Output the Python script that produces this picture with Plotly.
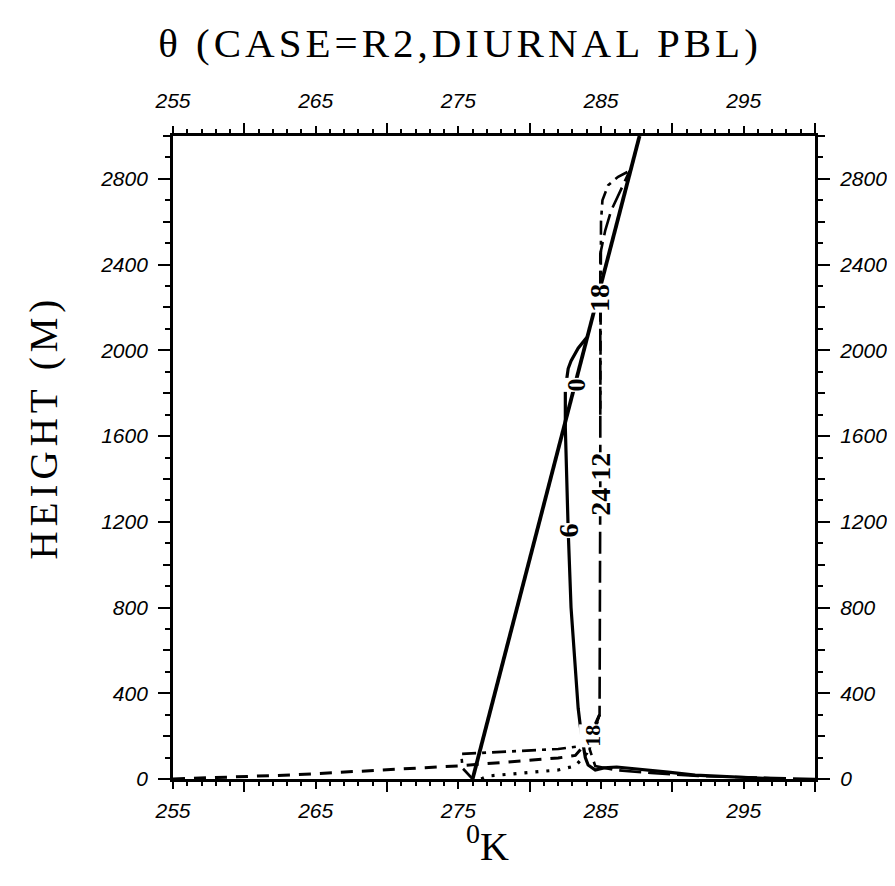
import plotly.graph_objects as go

# ---------------- data (potential temperature K vs height m) ----------------
x_range = [255, 300]
y_range = [0, 3000]
x_label_ticks = [255, 265, 275, 285, 295]
x_long_ticks = [260, 270, 280, 290, 300]
y_label_ticks = [0, 400, 800, 1200, 1600, 2000, 2400, 2800]
y_mid_ticks = [200, 600, 1000, 1400, 1800, 2200, 2600, 3000]

# hour 0 : initial profile
theta_0 = [276.0, 287.7]
z_0 = [0, 3000]

# hour 6
theta_6 = [297.5, 295.0, 291.6, 289.7, 287.5, 286.1, 285.2, 284.6, 284.1, 283.9,
           283.6, 283.4, 282.9, 282.7, 282.5, 282.5, 282.7, 282.9, 283.4, 284.0]
z_6 = [0, 8, 18, 32, 48, 56, 52, 42, 65, 100,
       220, 330, 800, 1160, 1640, 1820, 1915, 1950, 2010, 2060]

# hour 12 (long dash)
theta_12 = [300.0, 296.0, 291.8, 288.5, 286.0, 284.6, 284.2, 284.6, 284.9,
            284.95, 284.95, 285.3, 285.7, 286.4, 287.0]
z_12 = [0, 6, 14, 28, 42, 60, 140, 240, 300,
        1400, 2450, 2560, 2650, 2750, 2837]

# hour 18 (dash-dot)
theta_18 = [276.0, 275.3, 275.2, 282.0, 283.6, 284.3, 284.9, None,
            284.95, 285.0, 285.1, 285.5, 286.2, 287.0]
z_18 = [0, 50, 117, 140, 154, 200, 300, None,
        1700, 2600, 2700, 2770, 2810, 2837]

# hour 24 (dashed, cold surface)
theta_24 = [255.0, 263.3, 275.0, 282.0, 283.2, 284.0, 284.9]
z_24 = [0, 19, 61, 98, 110, 170, 300]

# intermediate night profile (dotted)
theta_d = [276.6, 277.1, 282.0, 283.2, 284.0, 284.9]
z_d = [0, 14, 42, 61, 120, 300]

# curve labels: (text, theta, z, size)
curve_labels = [("0", 283.3, 1840, 26), ("6", 282.7, 1160, 28),
                ("18", 284.95, 2245, 28), ("24", 284.95, 1295, 28),
                ("12", 284.95, 1458, 28), ("18", 284.35, 200, 22)]

# ---------------- figure ----------------
fig = go.Figure()
BLACK = "black"

def add(x, y, width, dash, xa="x", ya="y", opacity=1.0):
    fig.add_trace(go.Scatter(x=x, y=y, mode="lines", connectgaps=False,
                             xaxis=xa, yaxis=ya, opacity=opacity,
                             line=dict(color=BLACK, width=width, dash=dash),
                             showlegend=False, hoverinfo="skip"))

add(theta_0, z_0, 3.8, "solid")
add(theta_6, z_6, 3.2, "solid")
add(theta_12, z_12, 2.6, "22px,7px")
add(theta_18, z_18, 2.6, "14px,6px,4px,6px")
add(theta_24, z_24, 3.0, "12px,9px")
add(theta_d, z_d, 3.2, "3px,8px")
# same initial profile bound to the overlay axes (invisible) so they are drawn
add(theta_0, z_0, 1, "solid", "x2", "y2", 0.0)
add(theta_0, z_0, 1, "solid", "x3", "y3", 0.0)

for txt, tx, tz, sz in curve_labels:
    fig.add_annotation(x=tx, y=tz, xref="x", yref="y", text=txt, showarrow=False,
                       textangle=-90, bgcolor="white", borderpad=0,
                       font=dict(family="Liberation Serif", size=sz, color=BLACK,
                                 weight="bold"))

tickfont = dict(family="Liberation Sans", size=21, color=BLACK, style="italic")
axis_common = dict(showgrid=False, zeroline=False, color=BLACK, fixedrange=True)

fig.update_layout(
    width=895, height=886,
    margin=dict(l=165, r=88, t=128, b=115, pad=0),
    paper_bgcolor="white", plot_bgcolor="white",
    title=dict(text='<span style="letter-spacing:4px">\u03b8 (CASE=R2,DIURNAL PBL)</span>',
               x=452 / 895, xanchor="center", xref="container",
               y=1 - 35 / 886, yanchor="middle", yref="container",
               font=dict(family="Liberation Serif", size=41, color=BLACK)),
    xaxis=dict(range=x_range, tickvals=x_label_ticks, ticks="outside", ticklen=7,
               tickwidth=2, tickcolor=BLACK, showline=True, linewidth=2.8,
               linecolor=BLACK, mirror="ticks", tickfont=tickfont,
               ticklabelstandoff=4,
               minor=dict(dtick=1, ticklen=4, tickwidth=1.5, tickcolor=BLACK,
                          ticks="outside"),
               **axis_common),
    xaxis3=dict(range=x_range, overlaying="x", side="bottom", tickvals=x_long_ticks,
                ticks="outside", ticklen=12, tickwidth=2, tickcolor=BLACK,
                showline=False, mirror="ticks", showticklabels=False, **axis_common),
    xaxis2=dict(range=x_range, overlaying="x", side="top", tickvals=x_label_ticks,
                ticks="outside", ticklen=7, tickwidth=2, tickcolor=BLACK,
                showline=False, showticklabels=True, tickfont=tickfont,
                ticklabelstandoff=12, **axis_common),
    yaxis=dict(range=y_range, tickvals=y_label_ticks, ticks="outside", ticklen=12,
               tickwidth=2, tickcolor=BLACK, showline=True, linewidth=2.8,
               linecolor=BLACK, mirror="ticks", tickfont=tickfont,
               ticklabelstandoff=6,
               minor=dict(dtick=100, ticklen=5, tickwidth=1.5, tickcolor=BLACK,
                          ticks="outside"),
               **axis_common),
    yaxis3=dict(range=y_range, overlaying="y", side="left", tickvals=y_mid_ticks,
                ticks="outside", ticklen=9, tickwidth=2, tickcolor=BLACK,
                showline=False, mirror="ticks", showticklabels=False, **axis_common),
    yaxis2=dict(range=y_range, overlaying="y", side="right", tickvals=y_label_ticks,
                ticks="outside", ticklen=12, tickwidth=2, tickcolor=BLACK,
                showline=False, showticklabels=True, tickfont=tickfont,
                ticklabelstandoff=8, **axis_common),
)

# axis titles
fig.add_annotation(xref="paper", yref="paper", x=0.0, y=0.5, xshift=-130, yshift=30,
                   xanchor="center", yanchor="middle",
                   text='<span style="letter-spacing:5px">HEIGHT (M)</span>',
                   showarrow=False, textangle=-90,
                   font=dict(family="Liberation Serif", size=39, color=BLACK))
fig.add_annotation(xref="paper", yref="paper", x=0.49, y=0.0, yshift=-92,
                   xanchor="center", yanchor="bottom",
                   text="<sup>0</sup>K", showarrow=False,
                   font=dict(family="Liberation Serif", size=40, color=BLACK))

fig.write_html("out.html")
